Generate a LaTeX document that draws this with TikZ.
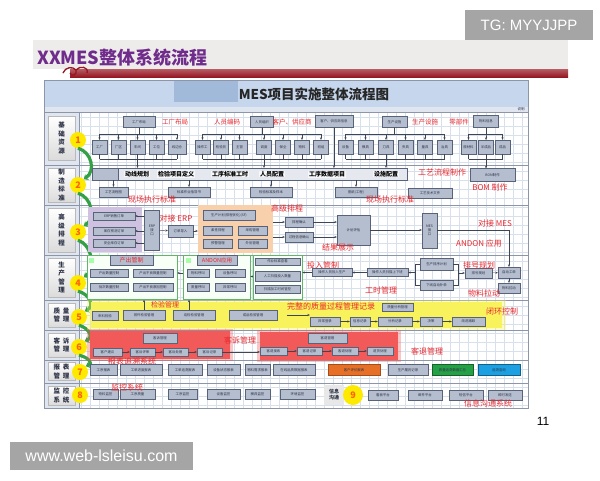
\documentclass[tikz,border=0pt]{standalone}
\usepackage{fontspec}
\setmainfont{Noto Sans CJK SC}
\newfontfamily\lat{Liberation Sans}
\usetikzlibrary{arrows.meta,calc}
\definecolor{boxfill}{RGB}{180,190,207}
\definecolor{boxline}{RGB}{88,98,120}
\definecolor{boxtext}{RGB}{45,50,70}
\definecolor{redtxt}{RGB}{232,40,45}
\definecolor{gridc}{RGB}{216,224,236}
\definecolor{sepc}{RGB}{140,150,168}
\definecolor{headc}{RGB}{198,214,236}
\definecolor{headd}{RGB}{162,186,218}
\definecolor{leftc}{RGB}{224,230,240}
\definecolor{purp}{RGB}{112,44,140}
\definecolor{barred}{RGB}{150,22,34}
\definecolor{bandc}{RGB}{238,236,234}
\definecolor{flowg}{RGB}{52,160,70}
\definecolor{zonepurple}{RGB}{206,194,224}
\definecolor{zoneorange}{RGB}{248,208,172}
\definecolor{zonegreen}{RGB}{96,182,104}
\definecolor{zoneyellow}{RGB}{248,242,92}
\definecolor{zonered}{RGB}{242,90,90}
\definecolor{evalorange}{RGB}{230,112,40}
\definecolor{okgreen}{RGB}{36,160,70}
\definecolor{qblue}{RGB}{28,160,225}
\definecolor{wm}{RGB}{165,165,165}
\begin{document}
\begin{tikzpicture}[x=1pt,y=-1pt,
    mbox/.style={draw=boxline,fill=boxfill,line width=0.4pt,inner sep=0pt,align=center,
      minimum height=9pt,font=\fontsize{3.4}{4}\selectfont,text=boxtext},
    kid/.style={mbox,minimum width=15pt,minimum height=14pt},
    note/.style={text=redtxt,inner sep=0pt,font=\fontsize{8}{9}\selectfont},
    snote/.style={note,font=\fontsize{6.5}{7}\selectfont},
    bartxt/.style={inner sep=0.6pt,fill=white!88!boxfill,font=\bfseries\fontsize{6}{7}\selectfont},
    rowlbl/.style={draw=gray!55,top color=white,bottom color=gray!28,inner sep=0pt,align=center,
      minimum width=27pt,font=\bfseries\fontsize{6.5}{8.5}\selectfont,text=boxtext},
    num/.style={circle,fill=yellow!92!orange,inner sep=0pt,minimum size=16pt,
      font=\bfseries\fontsize{9}{9}\selectfont,text=orange!75!red},
    flow/.style={flowg,line width=3.2pt,-{Stealth[length=4pt,width=7pt]}},
    zone/.style={inner sep=0pt},
    link/.style={boxline!70!black,line width=0.4pt,-{Stealth[length=2.4pt,width=2.2pt]}},
    wire/.style={boxline!70!black,line width=0.4pt}]
\useasboundingbox (0,0) rectangle (600,480);
\fill[white] (0,0) rectangle (600,480);
%% Watermarks and page number
\node[fill=wm,minimum width=128pt,minimum height=30pt,inner sep=0pt,font=\lat\fontsize{15}{16}\selectfont,text=white] (tg) at (529,25) {TG: MYYJJPP};
\node[fill=wm,minimum width=183pt,minimum height=28pt,inner sep=0pt,font=\lat\fontsize{16}{17}\selectfont,text=white] (web) at (101.5,456) {www.web-lsleisu.com};
\node[font=\lat\fontsize{12}{12}\selectfont,inner sep=0pt] (page) at (543,421) {11};
%% Slide title
\fill[bandc] (33,40) rectangle (568,69);
\shade[top color=barred!70,bottom color=barred] (70,69) rectangle (568,77);
\node[anchor=west,inner sep=0pt,font=\bfseries\fontsize{18}{18}\selectfont,text=purp] (title) at (37,58) {XXMES整体系统流程};
\draw[barred,line width=1.3pt] (63,73) .. controls (65,67) and (73,66) .. (76,70) .. controls (78,75) and (71,77) .. (70,73);
\draw[barred,line width=1.3pt] (76,70) .. controls (80,65) and (89,67) .. (87,73);
%% Chart frame, grid and header
\fill[white] (44,80) rectangle (528,408);
\draw[gridc,line width=0.3pt,step=9pt] (79,112) grid (528,408);
\fill[leftc] (44,107) rectangle (79,408);
\node[zone,fill=headc,minimum width=484pt,minimum height=27pt] (head) at (286,93.5) {};
\node[zone,fill=headd,minimum width=64pt,minimum height=21pt] (headp) at (206,91.5) {};
\node[inner sep=0pt,font=\bfseries\fontsize{13.5}{14}\selectfont,text=black!85] (htitle) at (314,94) {MES项目实施整体流程图};
\fill[leftc] (44,107) rectangle (528,112);
\node[inner sep=0pt,font=\fontsize{3.5}{4}\selectfont,text=boxtext] (legend) at (521,109.5) {说明};
\draw[sepc,line width=0.7pt] (44,80) rectangle (528,408);
\draw[sepc,line width=0.6pt] (79,112) -- (79,408);
\foreach \y in {112,165,205,255,300,330,360,383}
    \draw[sepc,line width=0.6pt] (44,\y) -- (528,\y);
%% Row labels
\node[rowlbl,minimum height=44pt] (l1) at (61.5,138) {基\\础\\资\\源};
\node[rowlbl,minimum height=34pt] (l2) at (61.5,185) {制\\造\\标\\准};
\node[rowlbl,minimum height=44pt] (l3) at (61.5,230) {高\\级\\排\\程};
\node[rowlbl,minimum height=39pt] (l4) at (61.5,277.5) {生\\产\\管\\理};
\node[rowlbl,minimum height=24pt] (l5) at (61.5,315) {质\hspace{3pt}量\\管\hspace{3pt}理};
\node[rowlbl,minimum height=24pt] (l6) at (61.5,345) {客\hspace{3pt}诉\\管\hspace{3pt}理};
\node[rowlbl,minimum height=18pt] (l7) at (61.5,371.5) {报\hspace{3pt}表\\管\hspace{3pt}理};
\node[rowlbl,minimum height=19pt] (l8) at (61.5,395.5) {监\hspace{3pt}控\\系\hspace{3pt}统};
%% Step circles and the flow between them
\node[num] (n1) at (78,140) {1};
\node[num] (n2) at (78,185) {2};
\node[num] (n3) at (78,232) {3};
\node[num] (n4) at (78,283) {4};
\node[num] (n5) at (79,317) {5};
\node[num] (n6) at (79,347) {6};
\node[num] (n7) at (80,372) {7};
\node[num] (n8) at (80,395) {8};
\draw[flow] (n1.south) .. controls +(14,4) and +(12,-8) .. (n2.north east);
\draw[flow] (n2.south) .. controls +(14,4) and +(12,-8) .. (n3.north east);
\draw[flow] (n3.south) .. controls +(14,4) and +(12,-8) .. (n4.north east);
\draw[flow] (n4.south) .. controls +(12,3) and +(10,-5) .. (n5.north east);
\draw[flow] (n5.south) .. controls +(10,3) and +(9,-4) .. (n6.north east);
\draw[flow] (n6.south) .. controls +(9,2) and +(8,-3) .. (n7.north east);
%% Row 1: basic resources
\node[mbox,minimum width=32pt,minimum height=11pt] (pa) at (139,122) {工厂布局};
\node[mbox,minimum width=23pt,minimum height=11pt] (pb) at (262,122) {人员组织};
\node[mbox,minimum width=38pt,minimum height=12pt] (pc) at (334,121.5) {客户、供应商信息};
\node[mbox,minimum width=25pt,minimum height=11pt] (pd) at (394.5,122) {生产设施};
\node[mbox,minimum width=25pt,minimum height=12pt] (pe) at (486,121.5) {物料信息};
\node[snote] (na) at (175,122) {工厂布局};
\node[snote] (nb) at (227,122) {人员编码};
\node[snote] (nc) at (292,122) {客户、供应商};
\node[snote] (nd) at (425,122) {生产设施};
\node[snote] (ne) at (459,122) {零部件};
\node[kid] (a1) at (99.5,147) {工厂};
\node[kid] (a2) at (118.5,147) {厂区};
\node[kid] (a3) at (137.5,147) {车间};
\node[kid] (a4) at (156.5,147) {工位};
\node[kid,minimum width=18pt] (a5) at (177,147) {线边仓};
\node[kid] (b1) at (202.5,147) {操作工};
\node[kid] (b2) at (221,147) {检验员};
\node[kid] (b3) at (239.5,147) {主管};
\node[kid] (b4) at (264,147) {调度};
\node[kid] (b5) at (283,147) {保全};
\node[kid] (b6) at (302,147) {物料};
\node[kid] (b7) at (321,147) {班组};
\node[kid] (d1) at (345.5,147) {设备};
\node[kid] (d2) at (365.5,147) {模具};
\node[kid] (d3) at (386,147) {刀具};
\node[kid] (d4) at (405.5,147) {夹具};
\node[kid] (d5) at (425,147) {量具};
\node[kid] (d6) at (444.5,147) {治具};
\node[kid] (e1) at (468.5,147) {原材料};
\node[kid] (e2) at (486,147) {半成品};
\node[kid] (e3) at (502.5,147) {成品};
\foreach \c in {a1,a2,a3,a4,a5} \draw[link] (pa.south) -- ++(0,6.5) -| (\c.north);
\foreach \c in {b1,b2,b3,b4,b5,b6,b7} \draw[link] (pb.south) -- ++(0,6.5) -| (\c.north);
\foreach \c in {d1,d2,d3,d4,d5,d6} \draw[link] (pd.south) -- ++(0,6.5) -| (\c.north);
\foreach \c in {e1,e2,e3} \draw[link] (pe.south) -- ++(0,6) -| (\c.north);
\foreach \c in {a1,a2,a3,a4,a5,b1,b2,b3,b4,b5,b6,b7,d1,d2,d3,d4,d5,d6,e1,e2,e3}
    \draw[wire] (\c.south) -- ++(0,5);
\draw[wire] ($(a1.south)+(0,5)$) -- ($(a5.south)+(0,5)$);
\draw[wire] ($(b1.south)+(0,5)$) -- ($(b7.south)+(0,5)$);
\draw[wire] ($(d1.south)+(0,5)$) -- ($(d6.south)+(0,5)$);
\draw[wire] ($(e1.south)+(0,5)$) -- ($(e3.south)+(0,5)$);
%% Row 2: manufacturing standards
\node[mbox,fill=boxfill!35,minimum width=315pt,minimum height=12pt] (bar) at (249.5,174) {};
\node[mbox,minimum width=26pt,minimum height=12pt] (barl) at (105,174) {};
\node[bartxt] (t1) at (137,174) {动线规划};
\node[bartxt] (t2) at (176,174) {检验项目定义};
\node[bartxt] (t3) at (230,174) {工序标准工时};
\node[bartxt] (t4) at (272,174) {人员配置};
\node[bartxt] (t5) at (327,174) {工序数据项目};
\node[bartxt] (t6) at (386,174) {设施配置};
\node[mbox,minimum width=45pt,minimum height=13pt] (bom) at (492.5,175) {BOM制作};
\node[note] (nflow) at (442,172) {工艺流程制作};
\node[note] (nbom) at (490,187.5) {BOM 制作};
\draw[link] ($(a3.south)+(0,5)$) -- (a3.south |- bar.north);
\draw[link] ($(b4.south)+(0,5)$) -- (b4.south |- bar.north);
\draw[link] (pc.south) -- (pc.south |- bar.north);
\draw[link] ($(d3.south)+(0,5)$) -- (d3.south |- bar.north);
\draw[link] ($(e2.south)+(0,5)$) -- (bom.north -| e2.south);
\node[mbox,minimum width=29pt,minimum height=10pt] (s1) at (113.5,192) {工艺流程图};
\node[mbox,minimum width=42pt,minimum height=10pt] (s2) at (189,192) {标准作业指导书};
\node[mbox,minimum width=42pt,minimum height=10pt] (s3) at (271,192) {检验标准及样本};
\node[mbox,minimum width=42pt,minimum height=10pt] (s4) at (356,192) {图纸(工程)};
\node[mbox,minimum width=44pt,minimum height=10pt] (s5) at (430,193) {工艺技术文件};
\foreach \s in {s1,s2,s3,s4} \draw[link] (\s.north |- bar.south) -- (\s.north);
\node[note] (nstd1) at (152,199.5) {现场执行标准};
\node[note] (nstd2) at (390,199.5) {现场执行标准};
%% Row 3: advanced scheduling
\node[zone,fill=zonepurple,minimum width=54pt,minimum height=45pt] (erpz) at (115,229.5) {};
\node[mbox,minimum width=42pt,minimum height=8pt] (o1) at (114,216) {ERP销售订单};
\node[mbox,minimum width=42pt,minimum height=8pt] (o2) at (114,231) {库存预测订单};
\node[mbox,minimum width=42pt,minimum height=8pt] (o3) at (114,243) {安全库存订单};
\node[mbox,minimum width=15pt,minimum height=40pt] (erp) at (152,230) {ERP\\接\\口};
\foreach \o in {o1,o2,o3} \draw[link] (erp.west |- \o) -- (\o.east);
\node[mbox,minimum width=25pt,minimum height=12pt] (imp) at (180.5,231) {订单导入};
\draw[link] (erp) -- (imp);
\node[note] (nerp) at (176,218) {对接 ERP};
\node[zone,fill=zoneorange,minimum width=75pt,minimum height=48pt] (schz) at (235.5,229) {};
\draw[link] (imp.east) -- (imp.east -| schz.west);
\node[mbox,minimum width=52pt,minimum height=10pt] (g0) at (229,215) {生产计划(排程优化)(SF)};
\node[mbox,minimum width=29pt] (g1) at (218,230.5) {柔性排程};
\node[mbox,minimum width=29pt] (g2) at (252.5,230.5) {采购管理};
\node[mbox,minimum width=29pt] (g3) at (218,243.5) {预警管理};
\node[mbox,minimum width=29pt] (g4) at (252.5,243.5) {外协管理};
\node[note] (nsch) at (287,208) {高级排程};
\node[mbox,minimum width=28pt,minimum height=10pt] (q1) at (299,222) {排程确认};
\node[mbox,minimum width=28pt,minimum height=10pt] (q2) at (299,237) {过程信息确认};
\draw[link] (schz.east |- q1) -- (q1.west);
\draw[link] (schz.east |- q2) -- (q2.west);
\node[mbox,minimum width=33pt,minimum height=30pt] (eval) at (353.5,230) {计划评估};
\draw[link] (q1.east) -- (q1.east -| eval.west);
\draw[link] (q2.east) -- (q2.east -| eval.west);
\node[note] (nshow) at (338,247.5) {结果展示};
\node[mbox,minimum width=15pt,minimum height=35pt] (mes) at (429.5,230.5) {MES\\接\\口};
\draw[link] (eval.east) -- (eval.east -| mes.west);
\node[note] (nmes) at (495,223) {对接 MES};
\node[note] (nand) at (479,243) {ANDON 应用};
%% Row 4: production management
\node[zone,draw=zonegreen,fill=green!3,line width=0.6pt,minimum width=90pt,minimum height=44pt] (ctlz) at (132,277.5) {};
\node[zone,fill=green!35,minimum size=5pt] (ic1) at (91,260) {};
\node[mbox,minimum width=43pt,minimum height=10pt,text=redtxt,font=\fontsize{6}{7}\selectfont] (tab1) at (131.5,260) {产出管制};
\node[mbox,minimum width=38pt,minimum height=8pt] (k1) at (109,273) {产出数量控制};
\node[mbox,minimum width=40pt,minimum height=8pt] (k2) at (153,273) {产出不良数量控制};
\node[mbox,minimum width=38pt,minimum height=8pt] (k3) at (109,287.5) {批次数量控制};
\node[mbox,minimum width=40pt,minimum height=8pt] (k4) at (153,287.5) {产出不良原因控制};
\node[zone,draw=zonegreen,fill=green!3,line width=0.6pt,minimum width=67pt,minimum height=44pt] (andz) at (216.5,277.5) {};
\node[zone,fill=green!35,minimum size=5pt] (ic2) at (188,260) {};
\node[mbox,minimum width=40pt,minimum height=10pt,text=redtxt,font=\fontsize{5.5}{6}\selectfont] (tab2) at (217,260) {ANDON应用};
\node[mbox,minimum width=22pt,minimum height=8pt] (m1) at (198,273) {物料呼叫};
\node[mbox,minimum width=30pt,minimum height=8pt] (m2) at (230,273) {设备呼叫};
\node[mbox,minimum width=22pt,minimum height=8pt] (m3) at (198,287.5) {质量呼叫};
\node[mbox,minimum width=30pt,minimum height=8pt] (m4) at (230,287.5) {异常呼叫};
\node[zone,draw=zonegreen,fill=green!3,line width=0.6pt,minimum width=49pt,minimum height=44pt] (inz) at (277.5,277.5) {};
\node[mbox,minimum width=45pt,minimum height=7pt] (w1) at (277.5,261.5) {作业标准查看};
\node[mbox,minimum width=45pt,minimum height=10pt] (w2) at (277.5,276.5) {人工扫描投入数量};
\node[mbox,minimum width=45pt,minimum height=8pt] (w3) at (277.5,289) {扫描加工时间管控};
\draw[link] (andz.west |- k2) -- (ctlz.east |- k2);
\draw[link] (inz.west |- w2) -- (andz.east |- w2);
\node[note] (nin) at (323,265) {投入管制};
\node[mbox,minimum width=40pt,minimum height=8pt] (in1) at (332,272.5) {操作人员投入生产};
\node[mbox,minimum width=41pt,minimum height=8pt] (in2) at (387.5,272.5) {操作人员扫描上下班};
\draw[link] (in2.west) -- (in1.east);
\draw[link] (in1.west) -- (in1.west -| inz.east);
\node[note] (nhour) at (381,290.5) {工时管理};
\node[mbox,minimum width=33pt,minimum height=12pt] (pl1) at (436.5,264) {生产排序计划};
\node[mbox,minimum width=33pt,minimum height=10pt] (pl2) at (436.5,285) {下线自动补单};
\draw[wire] (pl1.west) -- ++(-5,0) |- (pl2.west);
\draw[link] ($(pl1.west)+(-5,0)$) |- (in2.east);
\node[mbox,minimum width=27pt,minimum height=10pt] (hao) at (478.5,273) {排号规划};
\draw[wire] (pl1.east) -- ++(5,0) |- (pl2.east);
\draw[link] ($(pl1.east)+(5,0)$) |- (hao.west);
\node[note] (nhao) at (479,265) {排号规划};
\node[mbox,minimum width=22pt,minimum height=11pt] (auto) at (509,272.5) {自动工单};
\node[mbox,minimum width=22pt,minimum height=10pt] (pull) at (509,288) {物料拉动};
\draw[link] (mes.east) -| (auto.north);
\draw[link] (hao) -- (auto);
\draw[link] (auto) -- (pull);
\node[note] (npull) at (484,293.5) {物料拉动};
%% Row 5: quality management
\node[zone,fill=zoneyellow,opacity=0.35,minimum width=419pt,minimum height=30pt] (yglow) at (296.5,315) {};
\node[zone,fill=zoneyellow,minimum width=411pt,minimum height=26pt] (yz) at (296.5,315) {};
\node[mbox,minimum width=26pt] (f1) at (105,316) {来料检验};
\node[mbox,minimum width=42pt,minimum height=10pt] (f2) at (144,315) {首件检验管理};
\node[mbox,minimum width=42pt,minimum height=10pt] (f3) at (194,315) {巡检检验管理};
\node[mbox,minimum width=48pt,minimum height=10pt] (f4) at (253,315) {成品检验管理};
\node[note,font=\fontsize{7}{8}\selectfont] (ncheck) at (165,304.5) {检验管理};
\draw[link] (f2.north) -- (f2.north |- ctlz.south);
\draw[link] ([xshift=-5pt]f3.north) -- ([xshift=-5pt]f3.north |- andz.south);
\node[note] (nrec) at (331,306.5) {完整的质量过程管理记录};
\node[mbox,minimum width=31pt,minimum height=8pt] (qa) at (397.5,307) {质量分析管理};
\node[mbox,minimum width=30pt] (h1) at (325,321.5) {异常登录};
\node[mbox,minimum width=20pt] (h2) at (360,321.5) {信息记录};
\node[mbox,minimum width=34pt] (h3) at (395,321.5) {分析记录};
\node[mbox,minimum width=22pt] (h4) at (431,321.5) {决策};
\node[mbox,minimum width=33pt] (h5) at (468.5,321.5) {改进跟踪};
\draw[link] ([xshift=10pt]f4.east) -- (f4.east -| h1.west);
\draw[link] (h1) -- (h2);
\draw[link] (h2) -- (h3);
\draw[link] (h3) -- (h4);
\draw[link] (h4) -- (h5);
\node[note] (nloop) at (502,311) {闭环控制};
%% Row 6: complaint management
\node[zone,fill=zonered,opacity=0.35,minimum width=146pt,minimum height=32pt] (rglow1) at (160,345) {};
\node[zone,fill=zonered,minimum width=140pt,minimum height=28pt] (rz1) at (160,345) {};
\node[zone,fill=zonered,opacity=0.35,minimum width=144pt,minimum height=32pt] (rglow2) at (329,346) {};
\node[zone,fill=zonered,minimum width=138pt,minimum height=28pt] (rz2) at (329,346) {};
\node[mbox,minimum width=34pt,minimum height=10pt] (ks0) at (160,338) {客诉管理};
\node[mbox,minimum width=29pt,minimum height=8pt] (ks1) at (107.5,352) {客户建议};
\node[mbox,minimum width=25pt,minimum height=8pt] (ks2) at (142.5,352) {客诉评审};
\node[mbox,minimum width=25pt,minimum height=8pt] (ks3) at (175.5,352) {客诉处理};
\node[mbox,minimum width=25pt,minimum height=8pt] (ks4) at (209.5,352) {客诉记录};
\draw[link] (ks1) -- (ks2);
\draw[link] (ks2) -- (ks3);
\draw[link] (ks3) -- (ks4);
\node[note] (ncomp) at (240,340) {客诉管理};
\node[mbox,minimum width=39pt,minimum height=10pt] (kt0) at (327.5,338) {客退管理};
\node[mbox,minimum width=27pt,minimum height=8pt] (kt1) at (273.5,351) {客退接收};
\node[mbox,minimum width=25pt,minimum height=8pt] (kt2) at (309.5,351) {客退记录};
\node[mbox,minimum width=26pt,minimum height=8pt] (kt3) at (345,351) {客退处理};
\node[mbox,minimum width=26pt,minimum height=8pt] (kt4) at (380,351) {退货处理};
\draw[link] (ks4.east) -- (ks4.east -| kt1.west);
\draw[link] (kt1) -- (kt2);
\draw[link] (kt2) -- (kt3);
\draw[link] (kt3) -- (kt4);
\node[note] (nret) at (427,351) {客退管理};
\node[note] (ntrace) at (132,361.5) {报表追溯系统};
%% Row 7: reports
\node[mbox,minimum width=27pt,minimum height=11pt] (r1) at (103.5,370) {工序报表};
\node[mbox,minimum width=42pt,minimum height=11pt] (r2) at (141,370) {工单进度报表};
\node[mbox,minimum width=34pt,minimum height=11pt] (r3) at (185,370) {工单追溯报表};
\node[mbox,minimum width=33pt,minimum height=11pt] (r4) at (223.5,370) {设备状态报表};
\node[mbox,minimum width=25pt,minimum height=11pt] (r5) at (257.5,370) {物料需求报表};
\node[mbox,minimum width=42pt,minimum height=11pt] (r6) at (294,370) {在线品质数据报表};
\node[mbox,fill=evalorange,draw=evalorange!70!black,minimum width=52pt,minimum height=11pt] (r7) at (354,370) {客户评价报表};
\node[mbox,minimum width=40pt,minimum height=11pt] (r8) at (408,370) {生产履历记录};
\node[mbox,fill=okgreen,draw=okgreen!60!black,minimum width=41pt,minimum height=11pt] (r9) at (452.5,370) {质量追溯数据汇总};
\node[mbox,fill=qblue,draw=qblue!60!black,minimum width=42pt,minimum height=11pt] (r10) at (499,370) {追溯查询};
%% Row 8: monitoring and messages
\node[mbox,minimum width=25pt,minimum height=10pt] (v1) at (105.5,394) {物料监控};
\node[mbox,minimum width=35pt,minimum height=10pt] (v2) at (137.5,394) {工序质量};
\node[mbox,minimum width=29pt,minimum height=10pt] (v3) at (182.5,394) {工序监控};
\node[mbox,minimum width=33pt,minimum height=10pt] (v4) at (223.5,394) {设备监控};
\node[mbox,minimum width=25pt,minimum height=10pt] (v5) at (257.5,394) {模具监控};
\node[mbox,minimum width=35pt,minimum height=10pt] (v6) at (297.5,394) {环境监控};
\node[note] (nmon) at (127,387.5) {监控系统};
\node[zone,fill=gray!18,minimum width=20pt,minimum height=20pt,align=center,font=\bfseries\fontsize{5}{6}\selectfont,text=boxtext] (info) at (334,395) {信息\\沟通};
\node[num,minimum size=20pt] (n9) at (353,395) {9};
\node[mbox,minimum width=30pt,minimum height=10pt] (z1) at (383,395) {看板平台};
\node[mbox,minimum width=34pt,minimum height=10pt] (z2) at (425,395) {邮件平台};
\node[mbox,minimum width=34pt,minimum height=10pt] (z3) at (466,395) {短信平台};
\node[mbox,minimum width=34pt,minimum height=10pt] (z4) at (505,395) {即时发送};
\node[note] (nmsg) at (488,403.5) {信息沟通系统};
\end{tikzpicture}
\end{document}
